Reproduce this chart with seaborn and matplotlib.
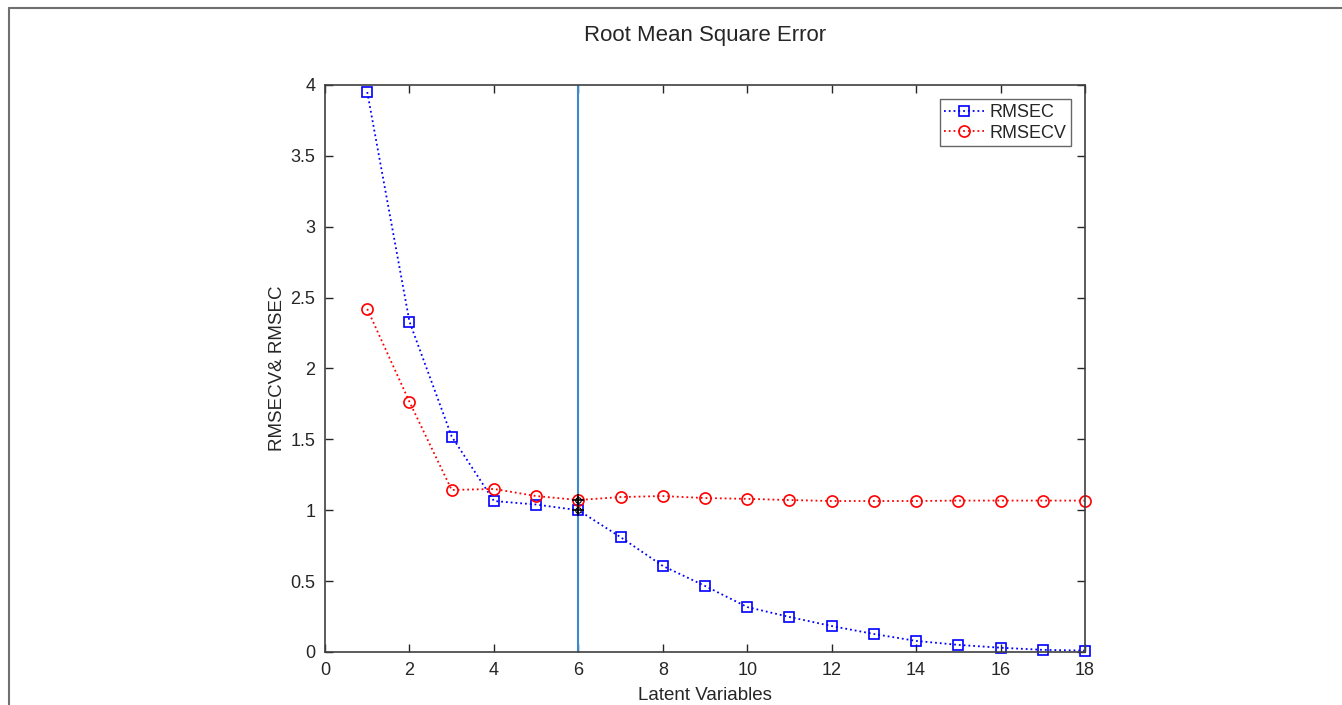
import matplotlib
matplotlib.use("Agg")
import matplotlib.pyplot as plt
from matplotlib.lines import Line2D
import pandas as pd
import seaborn as sns

latent = list(range(1, 19))
rmsec = [3.95, 2.33, 1.52, 1.065, 1.04, 1.00, 0.81, 0.607, 0.466, 0.317,
         0.247, 0.183, 0.127, 0.078, 0.05, 0.03, 0.015, 0.01]
rmsecv = [2.42, 1.764, 1.143, 1.15, 1.10, 1.072, 1.093, 1.10, 1.086, 1.08,
          1.072, 1.065, 1.065, 1.065, 1.068, 1.068, 1.068, 1.068]
best_lv = 6

df = pd.DataFrame({"lv": latent, "RMSEC": rmsec, "RMSECV": rmsecv})

sns.set_theme(style="ticks")
plt.rcParams["font.family"] = ["Liberation Sans", "DejaVu Sans"]

fig = plt.figure(figsize=(13.42, 7.05), dpi=100)
ax = fig.add_axes([0.2422, 0.0752, 0.5663, 0.8043])

sns.lineplot(data=df, x="lv", y="RMSEC", ax=ax, color="blue", marker="s",
             markersize=7, markerfacecolor="none", markeredgecolor="blue",
             markeredgewidth=1.2, linestyle=":", linewidth=1.3, label="RMSEC",
             clip_on=False)
sns.lineplot(data=df, x="lv", y="RMSECV", ax=ax, color="red", marker="o",
             markersize=8, markerfacecolor="none", markeredgecolor="red",
             markeredgewidth=1.2, linestyle=":", linewidth=1.3, label="RMSECV",
             clip_on=False)

# selected number of latent variables
ax.axvline(best_lv, color="#3b8ad0", linewidth=1.5, zorder=1)
i = latent.index(best_lv)
ax.plot([best_lv, best_lv], [rmsec[i], rmsecv[i]], linestyle="none",
        marker="+", color="black", markersize=9, markeredgewidth=1.2)
ax.plot([best_lv, best_lv], [rmsec[i], rmsecv[i]], linestyle="none",
        marker="o", markerfacecolor="none", markeredgecolor="black",
        markersize=4, markeredgewidth=0.8)

ax.set_xlim(0, 18)
ax.set_ylim(0, 4)
ax.set_xticks(range(0, 19, 2))
ax.set_yticks([0, 0.5, 1, 1.5, 2, 2.5, 3, 3.5, 4])
ax.set_yticklabels(["0", "0.5", "1", "1.5", "2", "2.5", "3", "3.5", "4"])
ax.tick_params(direction="in", top=True, right=True, length=6, width=1,
               labelsize=13, colors="#262626", pad=7)
for s in ax.spines.values():
    s.set_visible(True)
    s.set_color("#404040")
    s.set_linewidth(1.2)

ax.set_xlabel("Latent Variables", fontsize=13.5, color="#262626", labelpad=6)
ax.set_ylabel("RMSECV& RMSEC", fontsize=13.5, color="#262626")
ax.yaxis.set_label_coords(-0.052, 0.5)
ax.set_title("Root Mean Square Error", fontsize=16, color="#262626", pad=32)

leg = ax.legend(loc="upper right", fontsize=13, frameon=True, fancybox=False,
                edgecolor="#404040", handlelength=2.2, borderaxespad=0.8,
                labelspacing=0.2, borderpad=0.25, handletextpad=0.3)
leg.get_frame().set_linewidth(1.0)

# outer frame lines (top and left edge)
x0 = 9 / 1342
y0 = 1 - 8 / 705
fig.add_artist(Line2D([x0, 1], [y0, y0], transform=fig.transFigure,
                      color="#707070", linewidth=1.5))
fig.add_artist(Line2D([x0, x0], [0, y0], transform=fig.transFigure,
                      color="#707070", linewidth=1.5))

fig.savefig("out.png", dpi=100)
